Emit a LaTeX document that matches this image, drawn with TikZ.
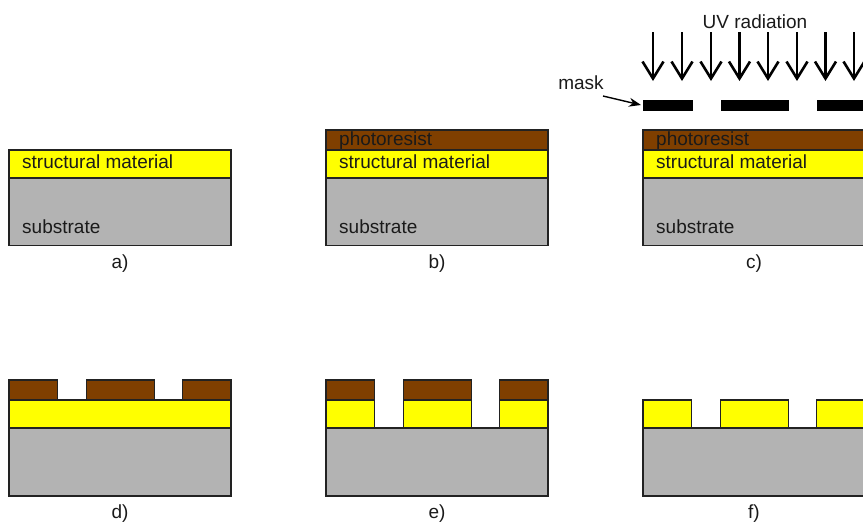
\documentclass[tikz,border=0pt]{standalone}
\usepackage{fontspec}
\setmainfont{Liberation Sans}
\usetikzlibrary{arrows.meta}
\definecolor{subgray}{HTML}{B3B3B3}
\definecolor{structy}{HTML}{FFFF00}
\definecolor{resist}{HTML}{7F3F00}
\definecolor{edgec}{HTML}{222222}
\definecolor{txtc}{HTML}{1A1A1A}
\tikzset{
  layer/.style={draw=edgec, line width=1.2pt},
  subl/.style={layer, fill=subgray},
  strl/.style={layer, fill=structy},
  resl/.style={layer, fill=resist},
  maskbar/.style={fill=black, draw=none},
  lbl/.style={font=\fontsize{19}{22}\selectfont, text=txtc, inner sep=0pt},
  inlbl/.style={lbl, anchor=base west},
  caplbl/.style={lbl, anchor=center},
  uvarrow/.style={line width=2.6pt, -{Straight Barb[length=17pt,width=21pt,line width=2.6pt]}},
  maskarrow/.style={line width=1.4pt, -{Stealth[length=12pt,width=9pt]}}
}
\begin{document}
\begin{tikzpicture}[x=1pt,y=-1pt]
\useasboundingbox (0,0) rectangle (863,523);
\clip (0,0) rectangle (863,523);
% ---------- panel a ----------
\draw[subl] (9,178) rectangle (231,245.5);
\draw[strl] (9,150) rectangle (231,178);
\node[inlbl] (a-str) at (22,168.5) {structural material};
\node[inlbl] (a-sub) at (22,233) {substrate};
\node[caplbl] (a-cap) at (120,264) {a)};
% ---------- panel b ----------
\draw[subl] (326,178) rectangle (548,245.5);
\draw[strl] (326,150) rectangle (548,178);
\draw[resl] (326,130) rectangle (548,150);
\node[inlbl] (b-res) at (339,145.5) {photoresist};
\node[inlbl] (b-str) at (339,168.5) {structural material};
\node[inlbl] (b-sub) at (339,233) {substrate};
\node[caplbl] (b-cap) at (437,264) {b)};
% ---------- panel c ----------
\draw[subl] (643,178) rectangle (865,245.5);
\draw[strl] (643,150) rectangle (865,178);
\draw[resl] (643,130) rectangle (865,150);
\node[inlbl] (c-res) at (656,145.5) {photoresist};
\node[inlbl] (c-str) at (656,168.5) {structural material};
\node[inlbl] (c-sub) at (656,233) {substrate};
\node[caplbl] (c-cap) at (754,264) {c)};
% mask
\fill[maskbar] (643,100) rectangle (692.5,111);
\fill[maskbar] (721,100) rectangle (789,111);
\fill[maskbar] (817,100) rectangle (870,111);
\node[lbl, anchor=center] (masklbl) at (581,83) {mask};
\coordinate (maskstart) at (603,96);
\coordinate (maskend) at (641,105);
\draw[maskarrow] (maskstart) -- (maskend);
% UV radiation
\node[lbl, anchor=base] (uvlbl) at (755,28) {UV radiation};
\foreach \i/\x in {1/653,2/682,3/711,4/739.5,5/768,6/797,7/825.5,8/854}{
  \coordinate (uvs\i) at (\x,32);
  \coordinate (uve\i) at (\x,81);
  \draw[uvarrow] (uvs\i) -- (uve\i);
}
% ---------- panel d ----------
\draw[subl] (9,428) rectangle (231,496);
\draw[strl] (9,400) rectangle (231,428);
\draw[resl] (9,380) rectangle (57.5,400);
\draw[resl] (86.5,380) rectangle (154.5,400);
\draw[resl] (182.5,380) rectangle (231,400);
\node[caplbl] (d-cap) at (120,514) {d)};
% ---------- panel e ----------
\draw[subl] (326,428) rectangle (548,496);
\draw[strl] (326,400) rectangle (374.5,428);
\draw[strl] (403.5,400) rectangle (471.5,428);
\draw[strl] (499.5,400) rectangle (548,428);
\draw[resl] (326,380) rectangle (374.5,400);
\draw[resl] (403.5,380) rectangle (471.5,400);
\draw[resl] (499.5,380) rectangle (548,400);
\node[caplbl] (e-cap) at (437,514) {e)};
% ---------- panel f ----------
\draw[subl] (643,428) rectangle (865,496);
\draw[strl] (643,400) rectangle (691.5,428);
\draw[strl] (720.5,400) rectangle (788.5,428);
\draw[strl] (816.5,400) rectangle (865,428);
\node[caplbl] (f-cap) at (754,514) {f)};
\end{tikzpicture}
\end{document}
